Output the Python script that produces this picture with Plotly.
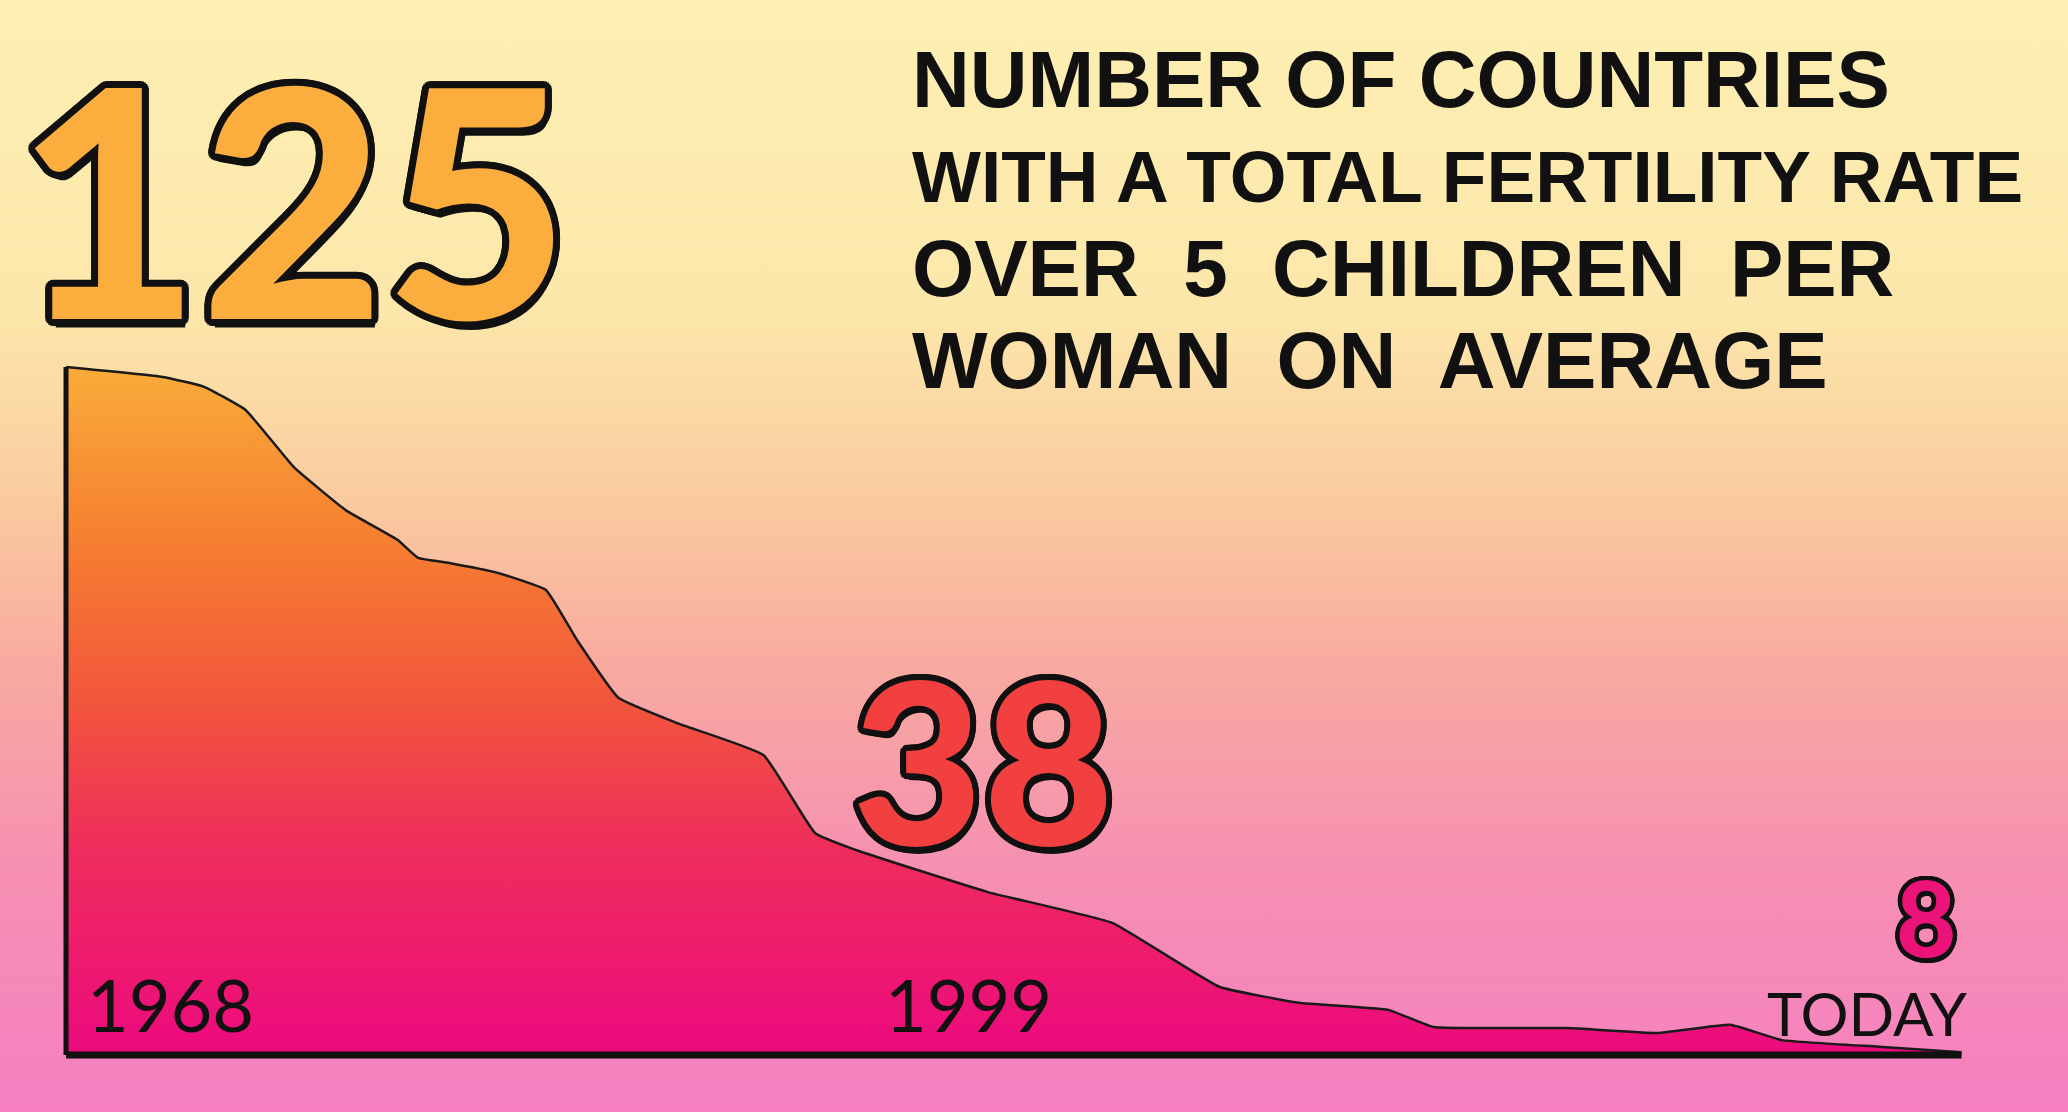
import base64
import math
import plotly.graph_objects as go

# ---------------- data ----------------
years = [1968.0, 1970.8, 1972.0, 1973.2, 1974.6, 1976.1, 1977.6, 1978.2, 1979.1,
         1980.5, 1981.9, 1982.8, 1984.0, 1985.7, 1988.2, 1989.7, 1990.9, 1994.7,
         1998.3, 2001.4, 2003.7, 2006.3, 2007.6, 2011.5, 2014.1, 2016.2, 2017.7,
         2020.5, 2022.9]
countries = [125.0, 123.2, 121.4, 117.2, 106.8, 99.0, 93.6, 90.3, 89.4,
             87.6, 84.5, 75.4, 64.9, 60.3, 54.5, 40.3, 37.2, 29.6,
             24.0, 12.4, 9.5, 8.2, 5.1, 4.9, 4.0, 5.5, 2.7,
             1.5, 0.5]
highlight_labels = ["125", "38", "8"]
year_labels = ["1968", "1999", "TODAY"]
title_lines = ["NUMBER OF COUNTRIES",
               "WITH A TOTAL FERTILITY RATE",
               "OVER\u00a0 5\u00a0 CHILDREN\u00a0 PER",
               "WOMAN\u00a0 ON\u00a0 AVERAGE"]

W, H = 2068, 1112

# ---------------- background gradient (decorative) ----------------
stops = [(0.0, "#FDEFB3"), (0.28, "#FCE7AA"), (0.45, "#FACB9F"),
         (0.60, "#F8AAA0"), (0.78, "#F690B2"), (1.0, "#F57FC1")]
stop_xml = "".join(f'<stop offset="{o}" stop-color="{c}"/>' for o, c in stops)
svg = (f'<svg xmlns="http://www.w3.org/2000/svg" width="{W}" height="{H}" '
       f'viewBox="0 0 {W} {H}" preserveAspectRatio="none">'
       f'<defs><linearGradient id="g" x1="0" y1="0" x2="0" y2="1">{stop_xml}'
       f'</linearGradient></defs><rect width="{W}" height="{H}" fill="url(#g)"/></svg>')
bg_src = "data:image/svg+xml;base64," + base64.b64encode(svg.encode()).decode()


def outline(r, color="#111111", n=20):
    parts = []
    for k in range(n):
        a = 2 * math.pi * k / n
        parts.append(f"{r*math.cos(a):.1f}px {r*math.sin(a):.1f}px 0 {color}")
    parts.append(f"{r*0.5:.1f}px {r*1.2:.1f}px 0 {color}")
    return ", ".join(parts)


fig = go.Figure()

# area
fig.add_trace(go.Scatter(
    x=years, y=countries, mode="lines", fill="tozeroy",
    line=dict(color="#1a1a1a", width=2.5, shape="spline", smoothing=0.35),
    fillgradient=dict(type="vertical",
                      colorscale=[[0.0, "#EC0A7E"], [0.3, "#EF2D5C"],
                                  [0.5, "#F2533D"], [0.75, "#F67F30"],
                                  [1.0, "#F9AC3A"]]),
    hoverinfo="skip", showlegend=False))

# y axis line and baseline drawn from the data extent
fig.add_trace(go.Scatter(x=[years[0], years[0]], y=[0, max(countries)], mode="lines",
                         line=dict(color="#111111", width=5), hoverinfo="skip",
                         showlegend=False))
fig.add_trace(go.Scatter(x=[years[0], years[-1]], y=[0, 0], mode="lines",
                         line=dict(color="#111111", width=7), hoverinfo="skip",
                         showlegend=False))

ann = []
# big numbers
big = [
    (highlight_labels[0], 292, 196, 318, "#FBAE3E", 7),
    (highlight_labels[1], 983, 757, 226, "#F1403F", 6),
    (highlight_labels[2], 1926, 916, 104, "#EC1378", 4.5),
]
for txt, px, py, size, col, r in big:
    ann.append(dict(text=txt, xref="paper", yref="paper", x=px / W, y=1 - py / H,
                    xanchor="center", yanchor="middle", showarrow=False,
                    font=dict(family="Lato", size=size, color=col, weight=900,
                              shadow=outline(r))))

# year labels
yl = [(year_labels[0], 170, 1004, 72), (year_labels[1], 968, 1004, 72),
      (year_labels[2], 1867, 1013, 60)]
for txt, px, py, size in yl:
    ann.append(dict(text=txt, xref="paper", yref="paper", x=px / W, y=1 - py / H,
                    xanchor="center", yanchor="middle", showarrow=False,
                    font=dict(family="Lato", size=size, color="#111111", weight=400)))

# title lines
ty = [79, 176, 269, 360]
tsize = [80, 73, 80, 80]
for line, py, s in zip(title_lines, ty, tsize):
    ann.append(dict(text=line, xref="paper", yref="paper", x=910 / W, y=1 - py / H,
                    xanchor="left", yanchor="middle", showarrow=False,
                    font=dict(family="Liberation Sans", size=s, color="#111111",
                              weight=700)))

# pixel-exact axis mapping (margins are zero)
px_per_year = (1965 - 66) / (years[-1] - years[0] + 0.1)
x0 = years[0] - 66 / px_per_year
x1 = years[0] + (W - 66) / px_per_year
px_per_unit = (1055 - 367) / max(countries)
y0 = -(H - 1055) / px_per_unit
y1 = 1055 / px_per_unit

fig.update_layout(
    width=W, height=H,
    margin=dict(l=0, r=0, t=0, b=0),
    paper_bgcolor="#F9C9A0", plot_bgcolor="rgba(0,0,0,0)",
    xaxis=dict(range=[x0, x1], visible=False, fixedrange=True),
    yaxis=dict(range=[y0, y1], visible=False, fixedrange=True),
    images=[dict(source=bg_src, xref="paper", yref="paper", x=0, y=1,
                 sizex=1, sizey=1, sizing="stretch", layer="below",
                 xanchor="left", yanchor="top")],
    annotations=ann,
    showlegend=False,
)

fig.write_html("out.html", config={"displayModeBar": False},
               post_script="document.body.style.margin='0';"
                           "document.body.style.overflow='hidden';")
